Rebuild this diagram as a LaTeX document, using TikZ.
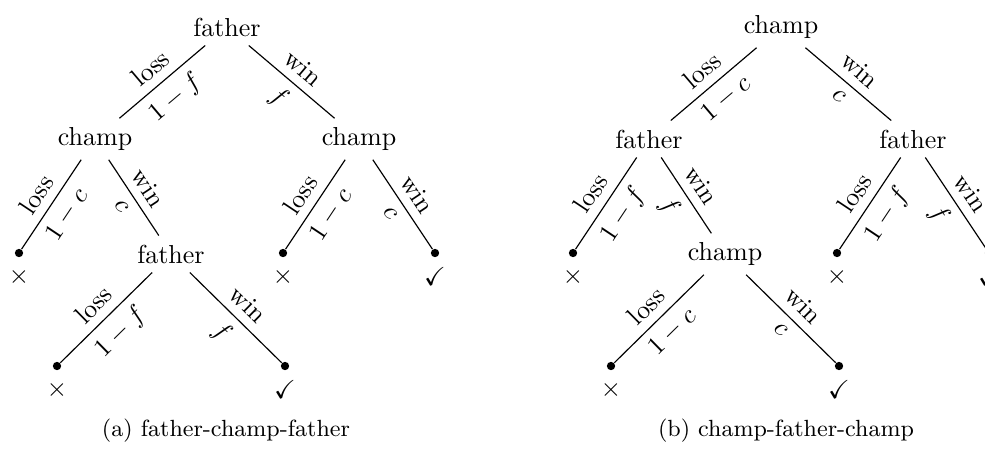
\documentclass[tikz,border=0pt]{standalone}
\usepackage{amssymb}
\tikzset{
  st/.style={inner sep=3.33pt},
  leafdot/.style={circle, fill, inner sep=0pt, minimum size=3.2pt},
  br/.style={line width=0.45pt},
  lab/.style={midway, sloped, above},
  prob/.style={midway, sloped, below},
  sym/.style={inner sep=0pt},
  captext/.style={font=\small},
}
\begin{document}
\begin{tikzpicture}[x=0.3846pt, y=-0.3846pt]
\useasboundingbox (0,0) rectangle (985,449);
\clip (0,0) rectangle (985,449);
% ---------- tree (a)
\node[st] (A) at (227,27) {father};
\node[st] (A1) at (95,139) {champ};
\node[st] (A2) at (359,139) {champ};
\node[leafdot] (A11) at (19,253) {};
\node[st] (A12) at (171,254) {father};
\node[leafdot] (A21) at (283,253) {};
\node[leafdot] (A22) at (435,253) {};
\node[leafdot] (A121) at (57,366) {};
\node[leafdot] (A122) at (285,366) {};
\node[sym] (xA11) at (19,277) {$\times$};
\node[sym] (xA21) at (283,277) {$\times$};
\node[sym] (cA22) at (435,276) {$\checkmark$};
\node[sym] (xA121) at (57,390) {$\times$};
\node[sym] (cA122) at (285,389) {$\checkmark$};
\draw[br] (A) -- node[lab] {loss} node[prob] {$1-f$} (A1);
\draw[br] (A) -- node[lab] {win} node[prob] {$f$} (A2);
\draw[br] (A1) -- node[lab] {loss} node[prob] {$1-c$} (A11);
\draw[br] (A1) -- node[lab] {win} node[prob] {$c$} (A12);
\draw[br] (A2) -- node[lab] {loss} node[prob] {$1-c$} (A21);
\draw[br] (A2) -- node[lab] {win} node[prob] {$c$} (A22);
\draw[br] (A12) -- node[lab] {loss} node[prob] {$1-f$} (A121);
\draw[br] (A12) -- node[lab] {win} node[prob] {$f$} (A122);
\node[captext] (capA) at (226,431) {(a) father-champ-father};
% ---------- tree (b)
\node[st] (B) at (781,27) {champ};
\node[st] (B1) at (649,139) {father};
\node[st] (B2) at (913,139) {father};
\node[leafdot] (B11) at (573,253) {};
\node[st] (B12) at (725,254) {champ};
\node[leafdot] (B21) at (837,253) {};
\node[leafdot] (B22) at (989,253) {};
\node[leafdot] (B121) at (611,366) {};
\node[leafdot] (B122) at (839,366) {};
\node[sym] (xB11) at (573,277) {$\times$};
\node[sym] (xB21) at (837,277) {$\times$};
\node[sym] (cB22) at (989,276) {$\checkmark$};
\node[sym] (xB121) at (611,390) {$\times$};
\node[sym] (cB122) at (839,389) {$\checkmark$};
\draw[br] (B) -- node[lab] {loss} node[prob] {$1-c$} (B1);
\draw[br] (B) -- node[lab] {win} node[prob] {$c$} (B2);
\draw[br] (B1) -- node[lab] {loss} node[prob] {$1-f$} (B11);
\draw[br] (B1) -- node[lab] {win} node[prob] {$f$} (B12);
\draw[br] (B2) -- node[lab] {loss} node[prob] {$1-f$} (B21);
\draw[br] (B2) -- node[lab] {win} node[prob] {$f$} (B22);
\draw[br] (B12) -- node[lab] {loss} node[prob] {$1-c$} (B121);
\draw[br] (B12) -- node[lab] {win} node[prob] {$c$} (B122);
\node[captext] (capB) at (786,431) {(b) champ-father-champ};
\end{tikzpicture}
\end{document}
